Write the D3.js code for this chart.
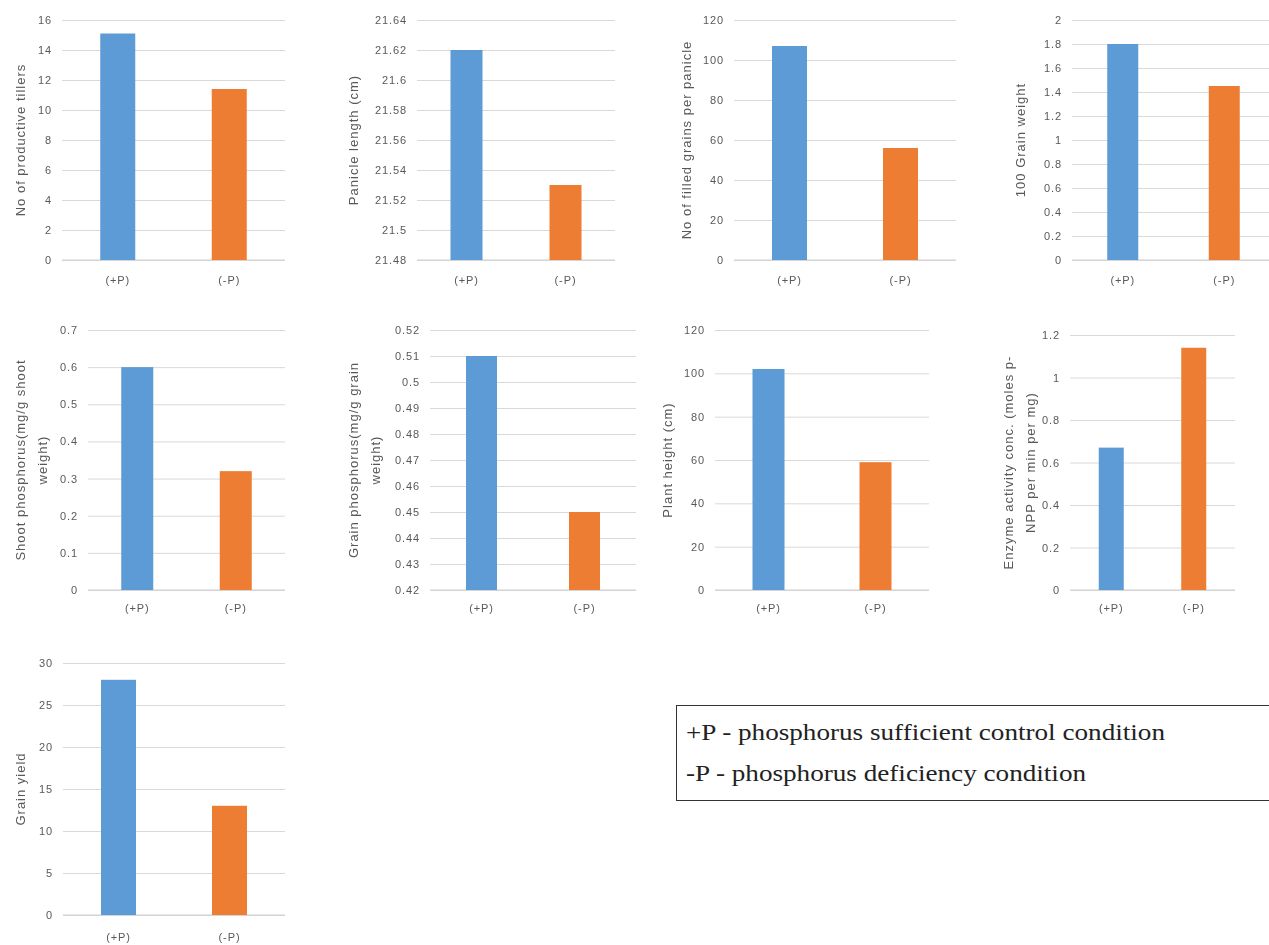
<!DOCTYPE html>
<html>
<head>
<meta charset="utf-8">
<script src="https://cdn.jsdelivr.net/npm/d3@7"></script>
<style>
  html, body { margin: 0; padding: 0; background: #fff; }
  svg { display: block; }
</style>
</head>
<body>
<svg id="fig" width="1269" height="945"></svg>
<script>
// Rice phosphorus-response traits, two treatments per trait
const categories = ["(+P)", "(-P)"];

const tillers        = [15.1, 11.4];
const panicleLength  = [21.62, 21.53];
const filledGrains   = [107, 56];
const grainWeight    = [1.8, 1.45];
const shootP         = [0.6, 0.32];
const grainP         = [0.51, 0.45];
const plantHeight    = [102, 59];
const enzymeActivity = [0.67, 1.14];
const grainYield     = [28, 13];

// y-axis tick values for each trait
const tillersTicks = [0, 2, 4, 6, 8, 10, 12, 14, 16];
const panicleTicks = [21.48, 21.5, 21.52, 21.54, 21.56, 21.58, 21.6, 21.62, 21.64];
const grainsTicks  = [0, 20, 40, 60, 80, 100, 120];
const weightTicks  = [0, 0.2, 0.4, 0.6, 0.8, 1, 1.2, 1.4, 1.6, 1.8, 2];
const shootPTicks  = [0, 0.1, 0.2, 0.3, 0.4, 0.5, 0.6, 0.7];
const grainPTicks  = [0.42, 0.43, 0.44, 0.45, 0.46, 0.47, 0.48, 0.49, 0.5, 0.51, 0.52];
const heightTicks  = [0, 20, 40, 60, 80, 100, 120];
const enzymeTicks  = [0, 0.2, 0.4, 0.6, 0.8, 1, 1.2];
const yieldTicks   = [0, 5, 10, 15, 20, 25, 30];

const legendLines = [
  "+P - phosphorus sufficient control condition",
  "-P - phosphorus deficiency condition"
];

const colors = ["#5b9bd5", "#ed7d31"];

// panel frames: plot area (x0..x1, yTop..yBottom), bar width, axis title position
const panels = [
  { values: tillers, ticks: tillersTicks, title: ["No of productive tillers"],
    x0: 62, x1: 285, yTop: 20, yBottom: 260, bw: 35, titleX: 20, labelY: 284 },
  { values: panicleLength, ticks: panicleTicks, title: ["Panicle length (cm)"],
    x0: 417, x1: 615, yTop: 20, yBottom: 260, bw: 32, titleX: 353, labelY: 284 },
  { values: filledGrains, ticks: grainsTicks, title: ["No of filled grains per panicle"],
    x0: 734, x1: 956, yTop: 20, yBottom: 260, bw: 35, titleX: 686, labelY: 284 },
  { values: grainWeight, ticks: weightTicks, title: ["100 Grain weight"],
    x0: 1072, x1: 1275, yTop: 20, yBottom: 260, bw: 31, titleX: 1020, labelY: 284 },
  { values: shootP, ticks: shootPTicks, title: ["Shoot phosphorus(mg/g shoot", "weight)"],
    x0: 88, x1: 285, yTop: 330, yBottom: 590, bw: 32, titleX: 20, labelY: 612 },
  { values: grainP, ticks: grainPTicks, title: ["Grain phosphorus(mg/g grain", "weight)"],
    x0: 430, x1: 636, yTop: 330, yBottom: 590, bw: 31, titleX: 353, labelY: 612 },
  { values: plantHeight, ticks: heightTicks, title: ["Plant height (cm)"],
    x0: 715, x1: 929, yTop: 330, yBottom: 590, bw: 32, titleX: 667, labelY: 612 },
  { values: enzymeActivity, ticks: enzymeTicks, title: ["Enzyme activity conc. (moles p-", "NPP per min per mg)"],
    x0: 1070, x1: 1235, yTop: 335, yBottom: 590, bw: 25, titleX: 1008, labelY: 612 },
  { values: grainYield, ticks: yieldTicks, title: ["Grain yield"],
    x0: 63, x1: 285, yTop: 663, yBottom: 915, bw: 35, titleX: 20, labelY: 941 }
];

const svg = d3.select("#fig");

// slight softening of the chart graphics
const defs = svg.append("defs");
defs.append("filter").attr("id", "soft")
  .append("feGaussianBlur").attr("stdDeviation", 0.6);

const charts = svg.append("g").attr("filter", "url(#soft)");
const fontFamily = "'Liberation Sans', Arial, sans-serif";
const fmt = d => String(+d.toFixed(4));

panels.forEach(p => {
  const g = charts.append("g");
  const domain = d3.extent(p.ticks);
  const y = d3.scaleLinear().domain(domain).range([p.yBottom, p.yTop]);
  const x = d3.scaleBand().domain(categories).range([p.x0, p.x1]);

  // horizontal gridlines + tick labels via d3 axis
  const axis = d3.axisLeft(y)
    .tickValues(p.ticks)
    .tickFormat(fmt)
    .tickSize(-(p.x1 - p.x0))
    .tickPadding(10);
  const ax = g.append("g").attr("transform", `translate(${p.x0},0)`).call(axis);
  ax.select(".domain").remove();
  ax.selectAll(".tick line").attr("stroke", "#d9d9d9").attr("stroke-width", 1);
  ax.selectAll(".tick text")
    .attr("fill", "#595959")
    .style("font-family", fontFamily)
    .style("font-size", "11px")
    .style("letter-spacing", "0.9px");

  // category axis baseline
  g.append("line")
    .attr("x1", p.x0).attr("x2", p.x1)
    .attr("y1", y(domain[0])).attr("y2", y(domain[0]))
    .attr("stroke", "#d0d0d0");

  // bars
  g.selectAll("rect.bar")
    .data(p.values)
    .join("rect")
    .attr("class", "bar")
    .attr("x", (d, i) => x(categories[i]) + x.bandwidth() / 2 - p.bw / 2)
    .attr("width", p.bw)
    .attr("y", d => y(d))
    .attr("height", d => y(domain[0]) - y(d))
    .attr("fill", (d, i) => colors[i]);

  // category labels
  g.selectAll("text.cat")
    .data(categories)
    .join("text")
    .attr("class", "cat")
    .attr("x", d => x(d) + x.bandwidth() / 2)
    .attr("y", p.labelY)
    .attr("text-anchor", "middle")
    .attr("fill", "#595959")
    .style("font-family", fontFamily)
    .style("font-size", "11px")
    .style("letter-spacing", "0.9px")
    .text(d => d);

  // rotated y-axis title
  const cy = (p.yTop + p.yBottom) / 2;
  const t = g.append("text")
    .attr("transform", `translate(${p.titleX},${cy}) rotate(-90)`)
    .attr("text-anchor", "middle")
    .attr("fill", "#595959")
    .style("font-family", fontFamily)
    .style("font-size", "13px")
    .style("letter-spacing", "1px");
  p.title.forEach((line, i) => {
    t.append("tspan")
      .attr("x", 0)
      .attr("dy", i === 0 ? "0.35em" : "22px")
      .text(line);
  });
});

// legend box explaining the treatments
const lg = svg.append("g");
lg.append("rect")
  .attr("x", 676.5).attr("y", 705.5)
  .attr("width", 600).attr("height", 95)
  .attr("fill", "#fff")
  .attr("stroke", "#333").attr("stroke-width", 1);
const legendText = lg.selectAll("text")
  .data(legendLines)
  .join("text")
  .attr("x", 686)
  .attr("y", (d, i) => 740 + i * 41)
  .attr("fill", "#222")
  .style("font-family", "'Liberation Serif', 'Times New Roman', serif")
  .style("font-size", "23px")
  .text(d => d);
// widen the serif face to the proportions of a book-style font
const natural = legendText.nodes().map(n => n.getComputedTextLength());
const widen = 479 / natural[0];
legendText
  .attr("textLength", (d, i) => natural[i] * widen)
  .attr("lengthAdjust", "spacingAndGlyphs");
</script>
</body>
</html>
